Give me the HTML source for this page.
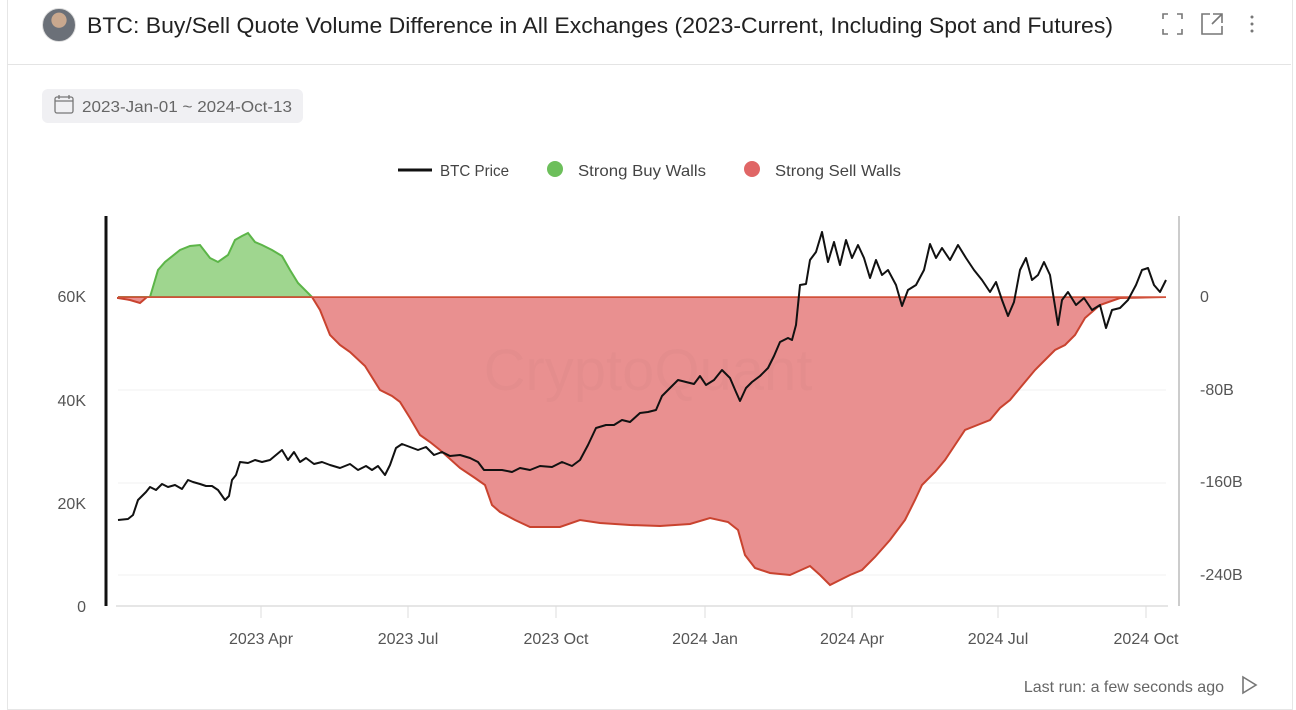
<!DOCTYPE html>
<html><head><style>
body{margin:0;width:1296px;height:700px;background:#fff;font-family:"Liberation Sans",sans-serif;overflow:hidden;position:relative}
.card{position:absolute;left:7px;top:-2px;width:1284px;height:710px;border:1px solid #e6e6e6}
</style></head><body>
<div class="card"></div>
<div style="position:absolute;left:7px;right:5px;top:64px;border-top:1px solid #e4e4e4"></div>
<div style="position:absolute;left:42px;top:8px;width:32px;height:32px;border-radius:50%;background:radial-gradient(circle at 50% 35%,#c9a88e 0 28%,#6b7078 30% 100%);border:1px solid #ddd"></div>
<svg style="position:absolute;left:0;top:0" width="1296" height="700">
<text x="87" y="33" font-size="22" fill="#222" textLength="1026" lengthAdjust="spacingAndGlyphs">BTC: Buy/Sell Quote Volume Difference in All Exchanges (2023-Current, Including Spot and Futures)</text>
<g stroke="#777" stroke-width="1.6" fill="none">
<path d="M1163 19v-5h5M1177 14h5v5M1163 29v5h5M1177 34h5v-5"/>
<path d="M1210 14h-8v20h20v-8M1213 14h9v9M1222 14l-10 10"/>
</g>
<circle cx="1252" cy="17" r="1.5" fill="#777"/><circle cx="1252" cy="24" r="1.5" fill="#777"/><circle cx="1252" cy="31" r="1.5" fill="#777"/>
<rect x="42" y="89" width="261" height="34" rx="6" fill="#f0f0f3"/>
<g stroke="#777" stroke-width="1.3" fill="none"><rect x="55" y="97" width="18" height="16" rx="2"/><path d="M55 101h18M59 95v4M69 95v4"/></g>
<text x="82" y="112" font-size="16" fill="#666" textLength="210" lengthAdjust="spacingAndGlyphs">2023-Jan-01 ~ 2024-Oct-13</text>
<line x1="398" y1="170" x2="432" y2="170" stroke="#111" stroke-width="3"/>
<text x="440" y="176" font-size="16" fill="#444" textLength="69" lengthAdjust="spacingAndGlyphs">BTC Price</text>
<circle cx="555" cy="169" r="8" fill="#6dbf5b"/>
<text x="578" y="176" font-size="16" fill="#444" textLength="128" lengthAdjust="spacingAndGlyphs">Strong Buy Walls</text>
<circle cx="752" cy="169" r="8" fill="#e06666"/>
<text x="775" y="176" font-size="16" fill="#444" textLength="126" lengthAdjust="spacingAndGlyphs">Strong Sell Walls</text>
<g stroke="#f0f0f0"><line x1="118" y1="390" x2="1166" y2="390"/><line x1="118" y1="483" x2="1166" y2="483"/><line x1="118" y1="575" x2="1166" y2="575"/></g>
<line x1="106" y1="216" x2="106" y2="606" stroke="#111" stroke-width="3"/>
<line x1="1179" y1="216" x2="1179" y2="606" stroke="#ccc" stroke-width="2"/>
<line x1="116" y1="606" x2="1168" y2="606" stroke="#ddd" stroke-width="1.5"/>
<g stroke="#ddd"><line x1="261" y1="606" x2="261" y2="618"/><line x1="408" y1="606" x2="408" y2="618"/><line x1="556" y1="606" x2="556" y2="618"/><line x1="705" y1="606" x2="705" y2="618"/><line x1="852" y1="606" x2="852" y2="618"/><line x1="998" y1="606" x2="998" y2="618"/><line x1="1146" y1="606" x2="1146" y2="618"/></g>
<g font-size="16" fill="#555" text-anchor="end"><text x="86" y="302">60K</text><text x="86" y="406">40K</text><text x="86" y="509">20K</text><text x="86" y="612">0</text></g>
<g font-size="16" fill="#555"><text x="1200" y="302">0</text><text x="1200" y="395">-80B</text><text x="1200" y="487">-160B</text><text x="1200" y="580">-240B</text></g>
<g font-size="16" fill="#555" text-anchor="middle"><text x="261" y="644">2023 Apr</text><text x="408" y="644">2023 Jul</text><text x="556" y="644">2023 Oct</text><text x="705" y="644">2024 Jan</text><text x="852" y="644">2024 Apr</text><text x="998" y="644">2024 Jul</text><text x="1146" y="644">2024 Oct</text></g>
<defs>
<clipPath id="up"><rect x="100" y="200" width="1100" height="97"/></clipPath>
<clipPath id="dn"><rect x="100" y="297" width="1100" height="320"/></clipPath>
</defs>
<g id="v">
<path clip-path="url(#up)" fill="#9fd68f" stroke="#5cb548" stroke-width="2" d="M118 297L130 300L140 303L150 297L158 270L165 262L180 250L190 246L200 245L210 258L218 262L228 255L235 240L242 236L248 233L255 242L262 245L272 250L282 256L290 270L298 283L312 297Z"/>
<path clip-path="url(#dn)" fill="#e99090" stroke="#c9432f" stroke-width="2" d="M118 297L118 298L130 300L140 303L147 297L312 297L320 310L330 335L340 345L350 352L365 366L380 390L392 396L400 402L410 418L420 435L430 442L440 450L460 468L475 478L485 485L492 505L500 512L515 520L530 527L560 527L580 520L600 523L630 525L660 526L690 524L710 518L728 522L738 530L745 555L755 568L770 573L790 575L810 566L820 575L830 585L840 580L850 575L862 570L875 557L890 540L905 520L915 500L922 485L935 472L945 460L955 445L965 430L980 424L990 420L1000 408L1010 400L1020 388L1035 370L1045 360L1055 350L1065 345L1075 335L1085 318L1100 305L1120 298L1166 297Z"/>
<line x1="118" y1="297" x2="1166" y2="297" stroke="#d4553f" stroke-width="1.5"/>
</g>
<text x="648" y="390" font-size="58" fill="#000" opacity="0.015" text-anchor="middle">CryptoQuant</text>
<polyline fill="none" stroke="#111" stroke-width="2" stroke-linejoin="round" points="118,520 128,519 133,515 138,500 142,496 146,492 150,487 156,490 162,484 168,487 175,485 182,489 188,480 193,482 200,484 206,486 212,486 218,490 225,500 229,496 232,480 236,475 240,462 248,463 255,460 262,462 270,460 276,455 282,450 288,460 294,452 300,462 306,458 314,464 322,462 330,465 340,468 350,464 358,470 366,466 372,470 378,466 385,475 390,465 396,448 402,444 410,447 418,450 426,447 434,455 442,452 450,456 460,455 470,458 478,462 484,470 494,470 502,470 512,472 520,468 530,470 540,466 552,467 562,462 572,466 580,460 588,445 596,428 606,425 614,425 622,420 630,422 640,413 648,412 656,410 662,396 670,388 678,380 686,382 694,384 700,376 706,385 714,380 722,370 730,378 736,392 740,401 746,388 752,382 760,376 768,368 774,356 780,342 788,338 792,340 796,325 800,285 806,284 810,260 816,252 822,232 828,262 834,242 840,265 846,240 852,258 858,245 864,258 870,278 876,260 882,275 888,270 896,285 902,306 908,290 916,285 924,270 930,244 936,258 942,248 950,260 958,245 966,258 974,270 982,280 990,292 996,282 1002,300 1008,316 1014,302 1020,270 1026,258 1032,280 1038,275 1044,262 1050,275 1054,300 1058,325 1062,300 1068,292 1076,305 1084,298 1092,310 1100,305 1106,328 1112,310 1120,308 1128,300 1136,285 1142,270 1148,268 1154,285 1160,292 1166,280"/>
<text x="1224" y="692" font-size="16" fill="#666" text-anchor="end">Last run: a few seconds ago</text>
<path d="M1243 677l13 8l-13 8z" fill="none" stroke="#777" stroke-width="1.6"/>
</svg>
</body></html>
